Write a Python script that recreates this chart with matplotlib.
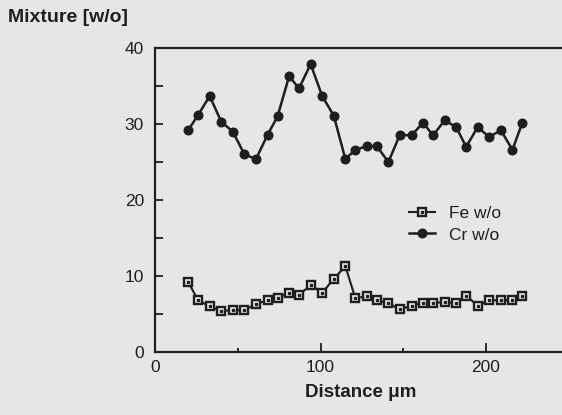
import matplotlib
matplotlib.use("Agg")
import matplotlib.pyplot as plt
from matplotlib.ticker import MultipleLocator

# values
distance = [20, 26, 33, 40, 47, 54, 61, 68, 74, 81, 87, 94, 101, 108, 115, 121,
            128, 134, 141, 148, 155, 162, 168, 175, 182, 188, 195, 202, 209, 216, 222]
fe = [9.2, 6.8, 6.0, 5.4, 5.5, 5.5, 6.3, 6.8, 7.1, 7.8, 7.5, 8.8, 7.8, 9.6, 11.3, 7.1,
      7.3, 6.8, 6.4, 5.6, 6.1, 6.5, 6.4, 6.6, 6.4, 7.4, 6.1, 6.8, 6.8, 6.8, 7.4]
cr = [29.2, 31.2, 33.7, 30.3, 29.0, 26.0, 25.4, 28.6, 31.0, 36.3, 34.7, 37.9, 33.7, 31.1,
      25.4, 26.6, 27.1, 27.1, 25.0, 28.6, 28.5, 30.2, 28.5, 30.5, 29.6, 27.0, 29.6, 28.3,
      29.2, 26.6, 30.2]

BG = "#e6e6e4"
INK = "#1e1e1e"

plt.rcParams["font.family"] = ["Liberation Sans", "DejaVu Sans"]

fig = plt.figure(figsize=(5.62, 4.15), dpi=100)
fig.patch.set_facecolor(BG)
ax = fig.add_axes([0.276, 0.152, 0.73, 0.732])
ax.set_facecolor(BG)

fe_sq, = ax.plot(distance, fe, color=INK, lw=1.5, marker="s", ms=5.6,
                 mfc=BG, mec=INK, mew=1.7, zorder=3)
fe_dot, = ax.plot(distance, fe, ls="none", marker="s", ms=1.4,
                  mfc=INK, mec=INK, zorder=4)
cr_ln, = ax.plot(distance, cr, color=INK, lw=1.8, marker="o", ms=6.2,
                 mfc=INK, mec=INK, zorder=3)

ax.set_xlim(0, 248)
ax.set_ylim(0, 40)
ax.xaxis.set_major_locator(MultipleLocator(100))
ax.xaxis.set_minor_locator(MultipleLocator(50))
ax.yaxis.set_major_locator(MultipleLocator(10))
ax.yaxis.set_minor_locator(MultipleLocator(5))
ax.tick_params(which="both", direction="in", color=INK, width=1.3,
               labelsize=12.5, labelcolor=INK, top=False, right=False)
ax.tick_params(axis="y", which="both", length=6, pad=8)
ax.tick_params(axis="x", which="major", length=6.5, pad=6)
ax.tick_params(axis="x", which="minor", length=3)

for side in ("left", "bottom", "top"):
    ax.spines[side].set_color(INK)
    ax.spines[side].set_linewidth(1.6)
ax.spines["right"].set_visible(False)

ax.legend([(fe_sq, fe_dot), cr_ln], ["Fe w/o", "Cr w/o"], loc="center",
          bbox_to_anchor=(0.73, 0.42), frameon=False, fontsize=12.5,
          handlelength=1.5, handletextpad=0.8, labelspacing=0.35,
          labelcolor=INK)

fig.text(0.014, 0.957, "Mixture [w/o]", fontsize=14, fontweight="bold",
         color=INK, ha="left", va="center")
ax.set_xlabel("Distance \u03bcm", fontsize=13.5, fontweight="bold", color=INK,
              labelpad=6)

fig.savefig("out.png", dpi=100, facecolor=BG)
